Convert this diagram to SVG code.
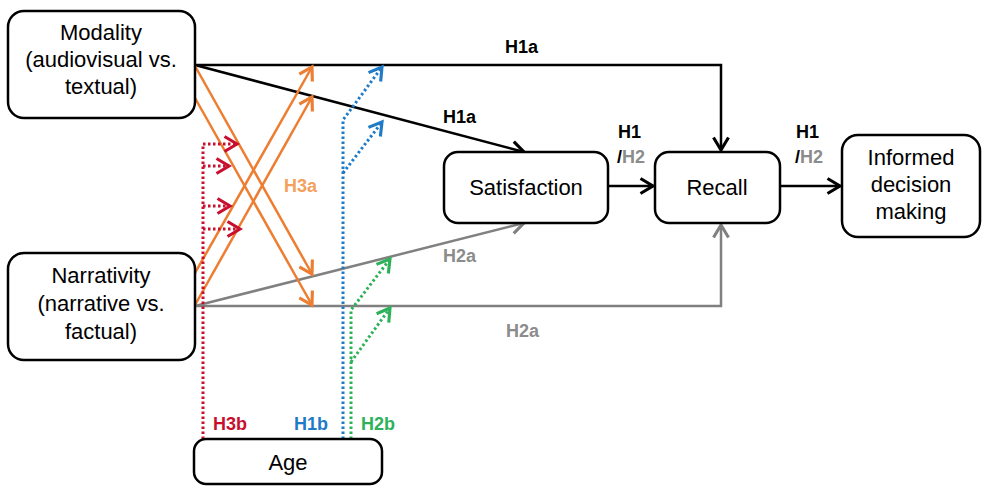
<svg xmlns="http://www.w3.org/2000/svg" width="984" height="486" viewBox="0 0 984 486">
<style>
.box{fill:#fff;stroke:#000;stroke-width:2.5}
.t{font-family:"Liberation Sans",Arial,sans-serif;font-size:22px;fill:#000;text-anchor:middle}
.lb{font-family:"Liberation Sans",Arial,sans-serif;font-size:18px;font-weight:bold}
.blk{stroke:#000;stroke-width:2.5;fill:none}
.gry{stroke:#808080;stroke-width:2.5;fill:none}
.org{stroke:#ED7D31;stroke-width:2.5;fill:none}
.red{stroke:#C8102E;stroke-width:3;fill:none;stroke-dasharray:2.5 2.5}
.blu{stroke:#1F7BC8;stroke-width:3;fill:none;stroke-dasharray:2.5 2.5}
.grn{stroke:#2DB25A;stroke-width:3;fill:none;stroke-dasharray:2.5 2.5}
</style>
<defs>
<marker id="aBlk" markerUnits="userSpaceOnUse" markerWidth="20" markerHeight="20" viewBox="-12 -8 14 16" refX="0" refY="0" orient="auto"><path d="M-10,-6 L0,0 L-10,6" fill="none" stroke="#000" stroke-width="2.5"/></marker>
<marker id="aGry" markerUnits="userSpaceOnUse" markerWidth="20" markerHeight="20" viewBox="-12 -8 14 16" refX="0" refY="0" orient="auto"><path d="M-10,-6 L0,0 L-10,6" fill="none" stroke="#808080" stroke-width="2.5"/></marker>
<marker id="aOrg" markerUnits="userSpaceOnUse" markerWidth="20" markerHeight="20" viewBox="-12 -8 14 16" refX="0" refY="0" orient="auto"><path d="M-10,-6 L0,0 L-10,6" fill="none" stroke="#ED7D31" stroke-width="2.5"/></marker>
<marker id="aRed" markerUnits="userSpaceOnUse" markerWidth="20" markerHeight="20" viewBox="-12 -8 14 16" refX="0" refY="0" orient="auto"><path d="M-10,-6 L0,0 L-10,6" fill="none" stroke="#C8102E" stroke-width="2.5"/></marker>
<marker id="aBlu" markerUnits="userSpaceOnUse" markerWidth="20" markerHeight="20" viewBox="-12 -8 14 16" refX="0" refY="0" orient="auto"><path d="M-10,-6 L0,0 L-10,6" fill="none" stroke="#1F7BC8" stroke-width="2.5"/></marker>
<marker id="aGrn" markerUnits="userSpaceOnUse" markerWidth="20" markerHeight="20" viewBox="-12 -8 14 16" refX="0" refY="0" orient="auto"><path d="M-10,-6 L0,0 L-10,6" fill="none" stroke="#2DB25A" stroke-width="2.5"/></marker>
</defs>
<rect width="984" height="486" fill="#fff"/>
<g id="connectors">
<path class="blk" d="M195,65 H721 V150" marker-end="url(#aBlk)"/>
<path class="blk" d="M195,65 L524,152" marker-end="url(#aBlk)"/>
<path class="blk" d="M608,186 H653" marker-end="url(#aBlk)"/>
<path class="blk" d="M780,186 H840" marker-end="url(#aBlk)"/>
<path class="gry" d="M195,306 L524,223" marker-end="url(#aGry)"/>
<path class="gry" d="M195,306 H721 V225" marker-end="url(#aGry)"/>
<path class="org" d="M195,66 L312,274" marker-end="url(#aOrg)"/>
<path class="org" d="M195,98 L312,305" marker-end="url(#aOrg)"/>
<path class="org" d="M195,273 L312,67" marker-end="url(#aOrg)"/>
<path class="org" d="M195,305 L312,97" marker-end="url(#aOrg)"/>
<path class="red" d="M203,439 V144 H237" marker-end="url(#aRed)"/>
<path class="red" d="M203,166 H229" marker-end="url(#aRed)"/>
<path class="red" d="M203,206 H230" marker-end="url(#aRed)"/>
<path class="red" d="M203,229 H240" marker-end="url(#aRed)"/>
<path class="blu" d="M343,439 V120 L382,67" marker-end="url(#aBlu)"/>
<path class="blu" d="M343,173 L382,122" marker-end="url(#aBlu)"/>
<path class="grn" d="M351,439 V310 L390,259" marker-end="url(#aGrn)"/>
<path class="grn" d="M351,362 L390,308" marker-end="url(#aGrn)"/>
</g>
<g id="labels">
<text class="lb" x="505" y="53" fill="#000">H1a</text>
<text class="lb" x="443" y="123" fill="#000">H1a</text>
<text class="lb" x="618" y="138" fill="#000">H1</text>
<text class="lb" x="617" y="163" fill="#000">/<tspan fill="#8C8C8C">H2</tspan></text>
<text class="lb" x="796" y="138" fill="#000">H1</text>
<text class="lb" x="795" y="163" fill="#000">/<tspan fill="#8C8C8C">H2</tspan></text>
<text class="lb" x="443" y="262" fill="#8C8C8C">H2a</text>
<text class="lb" x="506" y="337" fill="#8C8C8C">H2a</text>
<text class="lb" x="284" y="192" fill="#F4A15D">H3a</text>
<text class="lb" x="213" y="430" fill="#C8102E">H3b</text>
<text class="lb" x="294" y="430" fill="#1F7BC8">H1b</text>
<text class="lb" x="361" y="430" fill="#2DB25A">H2b</text>
</g>
<g id="modality">
<rect class="box" x="8" y="11" width="187" height="107" rx="16"/>
<text class="t" x="101" y="40">Modality</text>
<text class="t" x="101" y="67">(audiovisual vs.</text>
<text class="t" x="101" y="94">textual)</text>
</g>
<g id="narrativity">
<rect class="box" x="8" y="253" width="187" height="107" rx="16"/>
<text class="t" x="101" y="283">Narrativity</text>
<text class="t" x="101" y="311">(narrative vs.</text>
<text class="t" x="101" y="339">factual)</text>
</g>
<g id="satisfaction">
<rect class="box" x="444" y="152" width="164" height="71" rx="14"/>
<text class="t" x="526" y="195">Satisfaction</text>
</g>
<g id="recall">
<rect class="box" x="655" y="152" width="125" height="71" rx="14"/>
<text class="t" x="717" y="195">Recall</text>
</g>
<g id="informed">
<rect class="box" x="842" y="135" width="138" height="102" rx="16"/>
<text class="t" x="911" y="165">Informed</text>
<text class="t" x="911" y="192">decision</text>
<text class="t" x="911" y="219">making</text>
</g>
<g id="age">
<rect class="box" x="194" y="439" width="188" height="45" rx="12"/>
<text class="t" x="288" y="470">Age</text>
</g>
</svg>
